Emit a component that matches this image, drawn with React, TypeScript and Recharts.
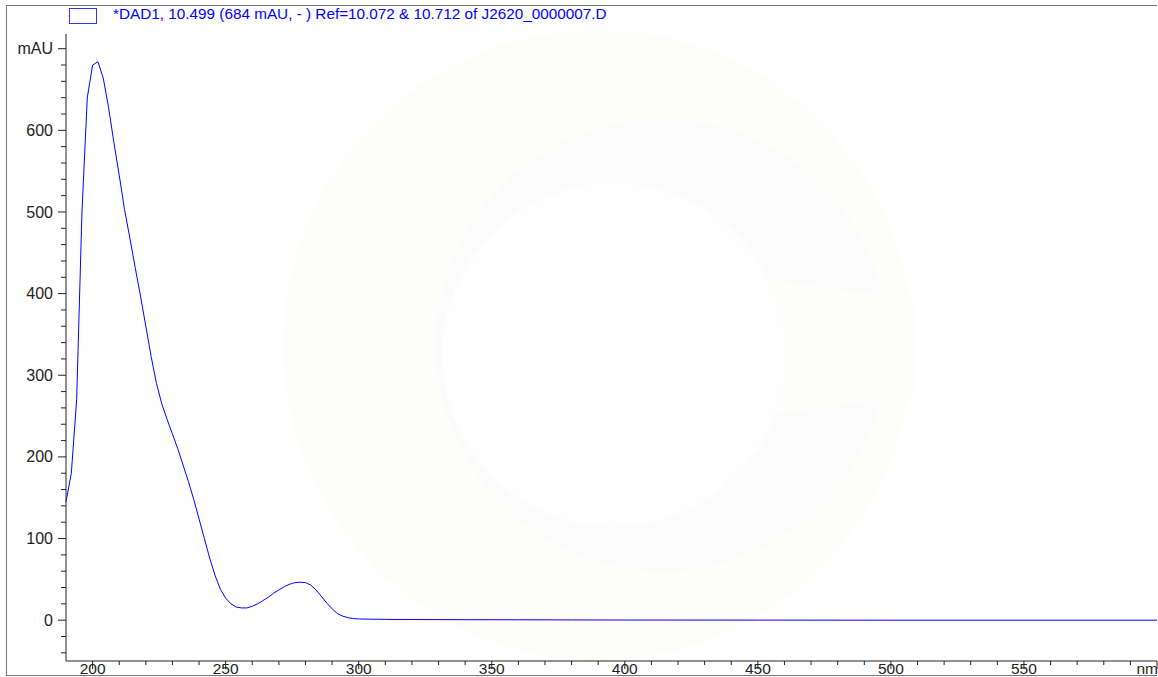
import React from "react";
import { Line, LineChart, XAxis, YAxis } from "recharts";

// DAD spectrum, wavelength (nm) vs absorbance (mAU)
const wavelengths = [
  190, 192, 194, 196, 198, 200, 202, 204, 206, 208, 210, 212, 214, 216, 218, 220,
  222, 224, 226, 228, 230, 232, 234, 236, 238, 240, 242, 244, 246, 248, 250, 252,
  254, 256, 258, 260, 262, 264, 266, 268, 270, 272, 274, 276, 278, 280, 282, 284,
  286, 288, 290, 292, 294, 296, 298, 300, 305, 310, 320, 340, 360, 380, 400, 450,
  500, 600,
];
const absorbance = [
  145, 180, 270, 500, 640, 680, 684, 664, 628, 585, 545, 503, 468, 432, 397, 360,
  323, 290, 265, 246, 228, 210, 190, 170, 148, 124, 100, 76, 55, 38, 27, 20,
  16, 15, 15, 17, 20, 24, 28, 33, 37, 41, 44, 46, 46.5, 46, 43, 37,
  29, 21, 14, 8, 5, 3, 2, 1.5, 1.2, 1, 0.8, 0.6, 0.5, 0.3, 0.2, 0.1,
  0, 0,
];

const xTicks = [190, 200, 210, 220, 230, 240, 250, 260, 270, 280, 290, 300, 310, 320, 330, 340,
  350, 360, 370, 380, 390, 400, 410, 420, 430, 440, 450, 460, 470, 480, 490, 500, 510, 520,
  530, 540, 550, 560, 570, 580, 590, 600];
const yTicks = [-40, -20, 0, 20, 40, 60, 80, 100, 120, 140, 160, 180, 200, 220, 240, 260, 280,
  300, 320, 340, 360, 380, 400, 420, 440, 460, 480, 500, 520, 540, 560, 580, 600, 620, 640,
  660, 680, 700];

const legendLabel = "*DAD1, 10.499 (684 mAU, - ) Ref=10.072 & 10.712 of J2620_0000007.D";

const data = wavelengths.map((nm, i) => ({ nm, mAU: absorbance[i] }));

const FONT = "'Liberation Sans', Arial, sans-serif";

function YTick({ x, y, payload }: any) {
  const v = payload.value;
  const major = v % 100 === 0;
  const label = v === 700 ? "mAU" : major ? String(v) : "";
  return (
    <g>
      <line x1={x - (major ? 8 : 5)} x2={x} y1={y} y2={y} stroke="#222" />
      {label && (
        <text x={x - 13} y={y} dy="0.35em" textAnchor="end" fontSize={16} fontFamily={FONT} fill="#222">
          {label}
        </text>
      )}
    </g>
  );
}

function XTick({ x, y, payload }: any) {
  const v = payload.value;
  const major = v % 50 === 0;
  const isEnd = v === 600;
  return (
    <g>
      {v !== 190 && <line x1={x} x2={x} y1={y} y2={y + (major ? 8 : 4)} stroke="#222" />}
      {major && (
        <text x={isEnd ? x + 1 : x} y={y + 13} textAnchor={isEnd ? "end" : "middle"} fontSize={15.5} fontFamily={FONT} fill="#222">
          {isEnd ? "nm" : String(v)}
        </text>
      )}
    </g>
  );
}

export default function App() {
  return (
    <div style={{ position: "absolute", left: 0, top: 0, width: 1158, height: 677, background: "#fff", overflow: "hidden" }}>
      {/* faint watermark */}
      <svg width={1158} height={677} style={{ position: "absolute", left: 0, top: 0 }}>
        <circle cx={598} cy={345} r={315} fill="#fdfdf9" />
        <circle cx={662} cy={345} r={226} fill="#fafbfa" />
        <polygon points="740,275 915,300 915,395 740,420" fill="#fdfdfa" />
        <circle cx={614} cy={355} r={172} fill="#fefefe" />
      </svg>
      <div style={{ position: "absolute", left: 0, top: 0 }}>
        <LineChart width={1158} height={677} data={data} margin={{ top: 34, right: 1, bottom: 0, left: 0 }}>
          <XAxis
            dataKey="nm"
            type="number"
            domain={[190, 600]}
            ticks={xTicks}
            interval={0}
            height={16}
            tickSize={0}
            tickMargin={0}
            tickLine={false}
            stroke="#222"
            tick={<XTick />}
          />
          <YAxis
            type="number"
            domain={[-50, 718]}
            ticks={yTicks}
            interval={0}
            width={66}
            tickSize={0}
            tickMargin={0}
            tickLine={false}
            stroke="#222"
            allowDataOverflow
            tick={<YTick />}
          />
          <Line
            type="linear"
            dataKey="mAU"
            stroke="#0000ff"
            strokeWidth={1}
            dot={false}
            isAnimationActive={false}
          />
        </LineChart>
      </div>
      {/* legend */}
      <div style={{ position: "absolute", left: 69, top: 8, width: 28, height: 16, border: "1.5px solid #3333ff", boxSizing: "border-box" }} />
      <div style={{ position: "absolute", left: 113, top: 5, fontFamily: FONT, fontSize: 15.3, color: "#0000ff", whiteSpace: "nowrap" }}>
        {legendLabel}
      </div>
      {/* outer frame */}
      <div style={{ position: "absolute", left: 6, top: 5, width: 1151, height: 671, border: "1px solid #777", borderRight: "none", boxSizing: "border-box" }} />
    </div>
  );
}
